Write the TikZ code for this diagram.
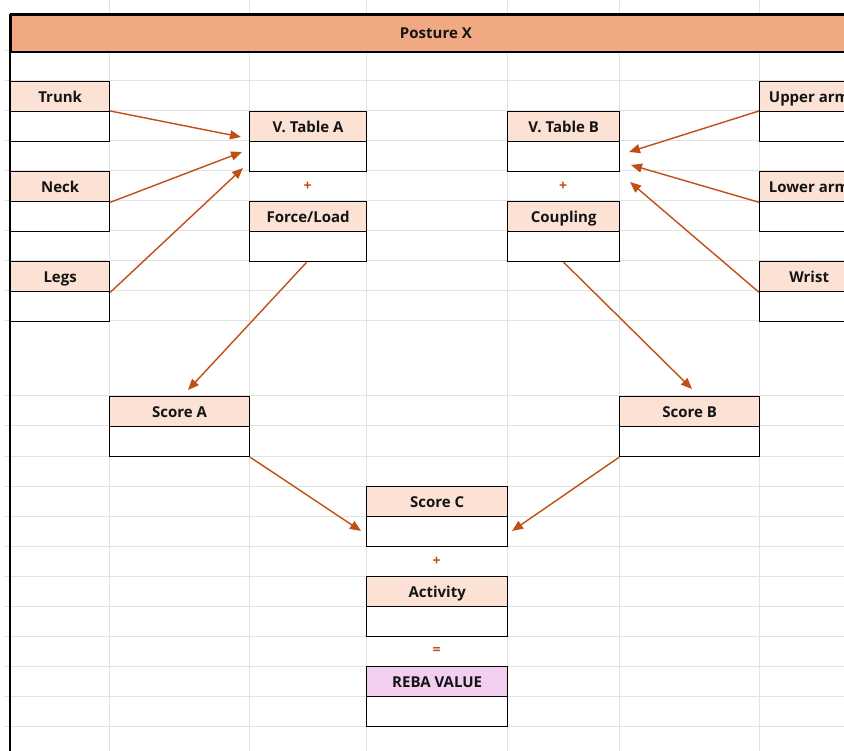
\documentclass[tikz,border=0pt]{standalone}
\usepackage{fontspec}
\setmainfont{Open Sans}
\usetikzlibrary{arrows.meta}
\definecolor{hdrfill}{HTML}{F1A983}
\definecolor{peach}{HTML}{FBE2D5}
\definecolor{lilac}{HTML}{F2CEEF}
\definecolor{arrowc}{HTML}{C04F15}
\definecolor{gridc}{HTML}{E2E2E2}
\definecolor{txt}{HTML}{141414}
\tikzset{
  lbl/.style={font=\bfseries\fontsize{15}{15}\selectfont, text=txt},
  hd/.style={lbl, draw=black, line width=1.3pt, fill=peach, minimum height=30pt,
     inner sep=0pt, anchor=north west, text height=11pt, text depth=0pt},
  vl/.style={draw=black, line width=1.3pt, fill=white, minimum height=30pt,
     inner sep=0pt, anchor=north west},
  op/.style={font=\bfseries\fontsize{14}{14}\selectfont, text=arrowc, inner sep=0pt},
  arr/.style={draw=arrowc, line width=1.4pt, -{Triangle[length=11pt,width=9pt]}},
  gridline/.style={draw=gridc, line width=1pt}
}
\begin{document}
\begin{tikzpicture}[x=1pt,y=-1pt]
\useasboundingbox (0,0) rectangle (844,751);
\begin{scope}
\clip (0,0) rectangle (844,751);
\fill[white] (0,0) rectangle (844,751);
% grid
\foreach \x in {109,249,366,507,619,759} \draw[gridline] (\x,0) -- (\x,751);
\foreach \y in {81,111,...,321} \draw[gridline] (4,\y) -- (844,\y);
\foreach \y in {396,426,...,726} \draw[gridline] (4,\y) -- (844,\y);
\draw[gridline] (4,51) -- (10,51);
% header
\node[lbl, fill=hdrfill, draw=black, line width=1.8pt, minimum width=850pt, minimum height=37pt,
      inner sep=0pt, anchor=north west, text height=11pt, text depth=0pt] (posture) at (10,14) {Posture X};
\draw[black, line width=2.6pt] (10,14) -- (844,14);
\draw[black, line width=2.4pt] (10,14) -- (10,751);
% left boxes
\node[hd, minimum width=99pt] (trunk) at (10,81) {Trunk};
\node[vl, minimum width=99pt] (trunkv) at (10,111) {};
\node[hd, minimum width=99pt] (neck) at (10,171) {Neck};
\node[vl, minimum width=99pt] (neckv) at (10,201) {};
\node[hd, minimum width=99pt] (legs) at (10,261) {Legs};
\node[vl, minimum width=99pt] (legsv) at (10,291) {};
% table A
\node[hd, minimum width=117pt] (vta) at (249,111) {V. Table A};
\node[vl, minimum width=117pt] (vtav) at (249,141) {};
\node[op] (plusA) at (307.5,186) {+};
\node[hd, minimum width=117pt] (force) at (249,201) {Force/Load};
\node[vl, minimum width=117pt] (forcev) at (249,231) {};
% table B
\node[hd, minimum width=112pt] (vtb) at (507,111) {V. Table B};
\node[vl, minimum width=112pt] (vtbv) at (507,141) {};
\node[op] (plusB) at (563,186) {+};
\node[hd, minimum width=112pt] (coup) at (507,201) {Coupling};
\node[vl, minimum width=112pt] (coupv) at (507,231) {};
% right boxes
\node[hd, minimum width=99pt] (upper) at (759,81) {Upper arm};
\node[vl, minimum width=99pt] (upperv) at (759,111) {};
\node[hd, minimum width=99pt] (lower) at (759,171) {Lower arm};
\node[vl, minimum width=99pt] (lowerv) at (759,201) {};
\node[hd, minimum width=99pt] (wrist) at (759,261) {Wrist};
\node[vl, minimum width=99pt] (wristv) at (759,291) {};
% scores
\node[hd, minimum width=140pt] (sa) at (109,396) {Score A};
\node[vl, minimum width=140pt] (sav) at (109,426) {};
\node[hd, minimum width=140pt] (sb) at (619,396) {Score B};
\node[vl, minimum width=140pt] (sbv) at (619,426) {};
\node[hd, minimum width=141pt] (sc) at (366,486) {Score C};
\node[vl, minimum width=141pt] (scv) at (366,516) {};
\node[op] (plusC) at (436.5,561) {+};
\node[hd, minimum width=141pt] (act) at (366,576) {Activity};
\node[vl, minimum width=141pt] (actv) at (366,606) {};
\node[op] (eq) at (436.5,651) {=};
\node[hd, minimum width=141pt, fill=lilac] (reba) at (366,666) {REBA VALUE};
\node[vl, minimum width=141pt] (rebav) at (366,696) {};
% arrow targets
\coordinate (tTrunk) at (241,137);
\coordinate (tNeck) at (242,152);
\coordinate (tLegs) at (243,168);
\coordinate (tSA) at (188,390);
\coordinate (tUpper) at (629,152);
\coordinate (tLower) at (631,165);
\coordinate (tWrist) at (630,182);
\coordinate (tSB) at (692,389);
\coordinate (tSCl) at (361,531);
\coordinate (tSCr) at (512,531);
% arrows
\draw[arr] (trunkv.north east) -- (tTrunk);
\draw[arr] (neck.south east) -- (tNeck);
\draw[arr] (legs.south east) -- (tLegs);
\draw[arr] ([xshift=-1.5pt]forcev.south) -- (tSA);
\draw[arr] (upperv.north west) -- (tUpper);
\draw[arr] (lower.south west) -- (tLower);
\draw[arr] (wrist.south west) -- (tWrist);
\draw[arr] (coupv.south) -- (tSB);
\draw[arr] (sav.south east) -- (tSCl);
\draw[arr] (sbv.south west) -- (tSCr);
\end{scope}
\end{tikzpicture}
\end{document}
